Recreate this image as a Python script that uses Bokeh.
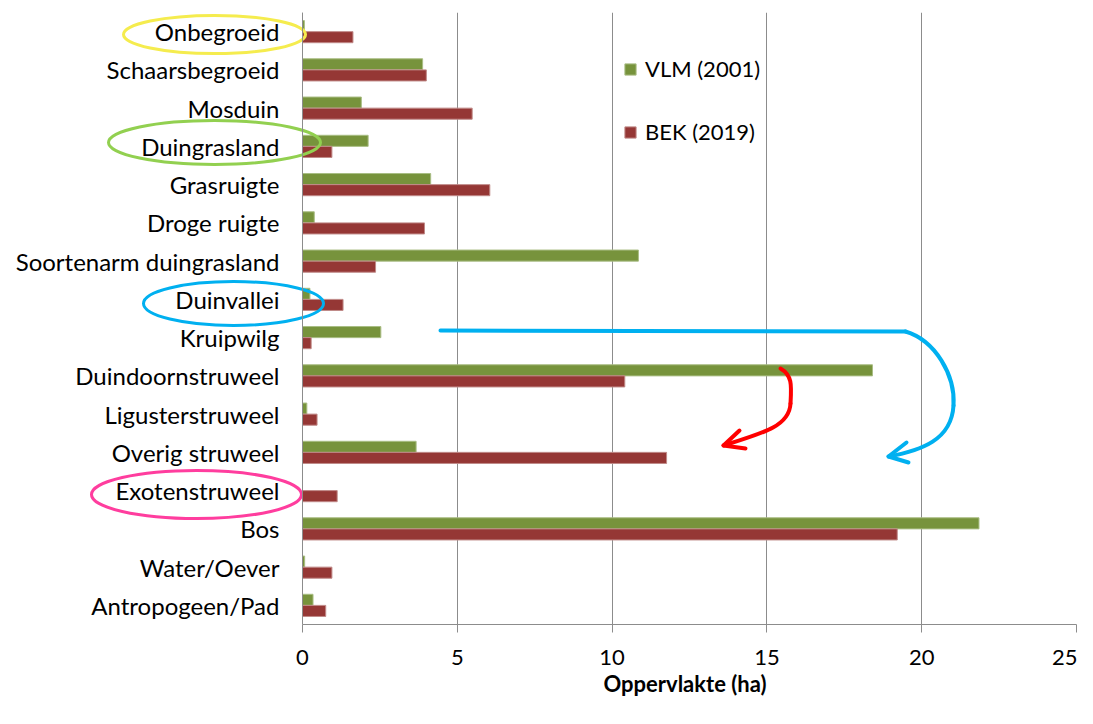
import numpy as np
from bokeh.plotting import figure
from bokeh.models import (ColumnDataSource, FactorRange, Range1d, Legend, LegendItem, FixedTicker, Title)
from bokeh.transform import dodge
from bokeh.embed import file_html
from bokeh.resources import INLINE

# ---------------- data ----------------
categories = ["Onbegroeid", "Schaarsbegroeid", "Mosduin", "Duingrasland", "Grasruigte",
              "Droge ruigte", "Soortenarm duingrasland", "Duinvallei", "Kruipwilg",
              "Duindoornstruweel", "Ligusterstruweel", "Overig struweel", "Exotenstruweel",
              "Bos", "Water/Oever", "Antropogeen/Pad"]
vlm_2001 = [0.06, 3.88, 1.90, 2.12, 4.14, 0.38, 10.85, 0.24, 2.53, 18.41, 0.14, 3.67, 0.0,
            21.85, 0.07, 0.34]
bek_2019 = [1.63, 4.00, 5.48, 0.95, 6.05, 3.94, 2.36, 1.31, 0.28, 10.41, 0.47, 11.76, 1.12,
            19.21, 0.95, 0.75]
series_labels = ["VLM (2001)", "BEK (2019)"]
x_ticks = [0, 5, 10, 15, 20, 25]
x_title = "Oppervlakte (ha)"

GREEN = "#77933C"
RED = "#953735"
GRID = "#8c8c8c"
FONT = "Lato"

# layout (pixels): x=0 at 302, 30.96 px per ha; frame from y=12 to y=624
PX0, PXU = 302.0, 30.96
PYT, PYB = 12.0, 624.0
PYU = (PYB - PYT) / len(categories)
W, H = 1077, 708

src = ColumnDataSource(dict(cat=categories, vlm=vlm_2001, bek=bek_2019))

p = figure(width=W, height=H,
           y_range=FactorRange(factors=list(reversed(categories)), range_padding=0),
           x_range=Range1d(-PX0 / PXU, (W - 1 - PX0) / PXU),
           output_backend="svg", toolbar_location=None,
           min_border_left=0, min_border_right=1, min_border_top=int(PYT),
           min_border_bottom=int(H - PYB))
p.outline_line_color = None
p.background_fill_color = "white"

r_vlm = p.hbar(y=dodge("cat", 0.145, range=p.y_range), right="vlm", height=0.29, source=src,
               fill_color=GREEN, line_color="#a9bd84", line_width=1)
r_bek = p.hbar(y=dodge("cat", -0.145, range=p.y_range), right="bek", height=0.29, source=src,
               fill_color=RED, line_color="#c08a88", line_width=1)

# x axis
p.xaxis.ticker = FixedTicker(ticks=x_ticks)
p.xaxis.bounds = (x_ticks[0], x_ticks[-1])
p.xaxis.axis_line_color = GRID
p.xaxis.major_tick_line_color = GRID
p.xaxis.major_tick_in = 0
p.xaxis.major_tick_out = 8
p.xaxis.minor_tick_line_color = None
p.xaxis.major_label_standoff = 17
p.xaxis.major_label_text_font = FONT
p.xaxis.major_label_text_font_size = "22px"
p.xaxis.major_label_text_color = "black"

# axis title, centred under the value axis (x = 0 .. 25)
p.add_layout(Title(text=x_title, align="left", offset=603, standoff=5, vertical_align="top",
                   text_font=FONT, text_font_size="22px", text_font_style="bold",
                   text_color="black"), "below")

# y axis drawn at x = 0 inside the wide frame
p.yaxis.fixed_location = 0
p.yaxis.axis_line_color = GRID
p.yaxis.major_tick_line_color = None
p.yaxis.major_tick_in = 0
p.yaxis.major_tick_out = 0
p.yaxis.minor_tick_line_color = None
p.yaxis.major_label_standoff = 23
p.yaxis.major_label_text_font = FONT
p.yaxis.major_label_text_font_size = "24px"
p.yaxis.major_label_text_color = "black"

p.xgrid.grid_line_color = GRID
p.ygrid.grid_line_color = None

legend = Legend(items=[LegendItem(label=series_labels[0], renderers=[r_vlm]),
                       LegendItem(label=series_labels[1], renderers=[r_bek])],
                location=(623, 479), glyph_width=14, glyph_height=14, label_standoff=8,
                spacing=36, padding=0, margin=0, label_height=26,
                border_line_alpha=0, background_fill_alpha=0,
                label_text_font=FONT, label_text_font_size="22px", label_text_color="black")
p.add_layout(legend)


# ---------------- hand-drawn annotations (pixel layout -> data) ----------------
def dx(X):
    return list((np.asarray(X, dtype=float) - PX0) / PXU)


def dy(Y):
    return list((PYB - np.asarray(Y, dtype=float)) / PYU)


ell_cx = [214, 214, 233, 196]
ell_cy = [34, 142, 303, 494]
ell_w = [182, 212, 180, 210]
ell_h = [38, 44, 44, 48]
ell_col = ["#F5EC4E", "#92D050", "#00B0F0", "#FF3D9E"]
p.ellipse(x=dx(ell_cx), y=dy(ell_cy), width=ell_w, height=ell_h,
          width_units="screen", height_units="screen",
          fill_alpha=0, line_color=ell_col, line_width=3)

BLUE = "#00B0F0"
ARROW_RED = "#FF0000"
p.line(x=dx([440, 905]), y=dy([330, 331]), line_color=BLUE, line_width=4, line_cap="round")
blue_bez = dict(x0=[905, 953], y0=[331, 405], cx0=[935, 951], cy0=[340, 440],
                cx1=[955, 920], cy1=[375, 450], x1=[953, 888], y1=[405, 456])
red_bez = dict(x0=[780, 790], y0=[368, 403], cx0=[792, 789], cy0=[375, 425],
               cx1=[791, 765], cy1=[385, 432], x1=[790, 723], y1=[403, 445])
for bz, col in ((blue_bez, BLUE), (red_bez, ARROW_RED)):
    p.bezier(x0=dx(bz["x0"]), y0=dy(bz["y0"]), x1=dx(bz["x1"]), y1=dy(bz["y1"]),
             cx0=dx(bz["cx0"]), cy0=dy(bz["cy0"]), cx1=dx(bz["cx1"]), cy1=dy(bz["cy1"]),
             line_color=col, line_width=4, line_cap="round")
heads = [
    ((888, 456), (906, 442), (908, 462), BLUE),
    ((723, 445), (739, 430), (745, 448), ARROW_RED),
]
for tip, a1, a2, col in heads:
    p.line(x=dx([a1[0], tip[0], a2[0]]), y=dy([a1[1], tip[1], a2[1]]),
           line_color=col, line_width=4, line_cap="round", line_join="round")

open("out.html", "w").write(file_html(p, INLINE))
